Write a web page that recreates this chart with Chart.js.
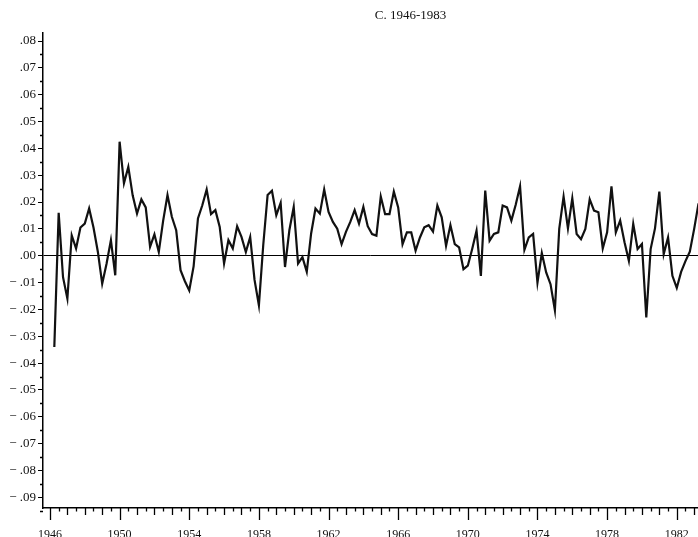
<!DOCTYPE html>
<html>
  <head>
    <title>C. 1946-1983</title>
    <script src="https://cdn.jsdelivr.net/npm/chart.js"></script>
    <style>
      body {
        margin: 0;
        background: #fff;
      }

      #wrap {
        width: 698px;
        height: 537px;
      }
    </style>
  </head>
  <body>
    <div id="wrap"><canvas id="seriesChart" width="698" height="537"></canvas></div>

    <script>
      // quarterly series, first value is 1946 Q2
      const startYear = 1946;
      const startQuarter = 2;
      const values = [
        -0.034, 0.016, -0.008, -0.016, 0.0076, 0.0027, 0.0105, 0.012,
        0.0176, 0.0105, 0.0015, -0.0104, -0.003, 0.0058, -0.0073, 0.0425,
        0.027, 0.0331, 0.0225, 0.0157, 0.021, 0.018, 0.0033, 0.008,
        0.0014, 0.013, 0.0226, 0.0145, 0.0095, -0.0054, -0.0095, -0.0129,
        -0.004, 0.0139, 0.0188, 0.0247, 0.0155, 0.017, 0.0107, -0.0029,
        0.0058, 0.0027, 0.011, 0.007, 0.0014, 0.007, -0.009, -0.0185,
        0.004, 0.0226, 0.0242, 0.0151, 0.0197, -0.0042, 0.0095, 0.0182,
        -0.0029, -0.0005, -0.006, 0.0083, 0.0176, 0.0157, 0.0247, 0.0163,
        0.0126, 0.0101, 0.0043, 0.0089, 0.0126, 0.017, 0.012, 0.0182,
        0.011, 0.0081, 0.0075, 0.0221, 0.0155, 0.0155, 0.0239, 0.018,
        0.0043, 0.0087, 0.0087, 0.0019, 0.0068, 0.0106, 0.0114, 0.009,
        0.0187, 0.0143, 0.0037, 0.0114, 0.0043, 0.0031, -0.005, -0.0037,
        0.0025, 0.0093, -0.0075, 0.0243, 0.0056, 0.0081, 0.0087, 0.0187,
        0.018, 0.0131, 0.019, 0.0259, 0.0022, 0.0068, 0.0081, -0.01,
        0.001, -0.0062, -0.0106, -0.0203, 0.01, 0.022, 0.0102, 0.0214,
        0.0081, 0.0062, 0.01, 0.021, 0.0168, 0.0162, 0.0027, 0.0087,
        0.0259, 0.0087, 0.0131, 0.005, -0.0019, 0.0119, 0.0025, 0.0044,
        -0.023, 0.0025, 0.0102, 0.0239, 0.0006, 0.0068, -0.0075, -0.012,
        -0.006, -0.002, 0.0015, 0.01, 0.0195,
      ];
      const yearLabels = [1946, 1950, 1954, 1958, 1962, 1966, 1970, 1974, 1978, 1982];
      const yTicks = [
        -0.09, -0.08, -0.07, -0.06, -0.05, -0.04, -0.03, -0.02, -0.01,
        0, 0.01, 0.02, 0.03, 0.04, 0.05, 0.06, 0.07, 0.08,
      ];
      const titleText = 'C. 1946-1983';

      const quarters = values.map((_, i) => startYear + (startQuarter - 1 + i) / 4);
      const points = values.map((v, i) => ({ x: quarters[i], y: v }));

      const serif = 'Liberation Serif, DejaVu Serif, serif';

      // small tick marks and the title
      const extras = {
        id: 'extras',
        afterDraw(chart) {
          const { ctx, chartArea: a } = chart;
          const x = chart.scales.x;
          const y = chart.scales.y;
          ctx.save();
          ctx.strokeStyle = '#000';
          ctx.lineWidth = 1.3;
          ctx.beginPath();
          for (let h = 1946 * 2; h <= 1983 * 2; h++) {
            const t = h / 2;
            const px = Math.round(x.getPixelForValue(t)) + 0.5;
            let len = 3.5;
            if (Number.isInteger(t)) len = 7;
            if (yearLabels.includes(t)) len = 12;
            ctx.moveTo(px, a.bottom);
            ctx.lineTo(px, a.bottom + len);
          }
          for (let k = -9; k <= 8; k++) {
            const py = Math.round(y.getPixelForValue(k / 100 - 0.005)) + 0.5;
            ctx.moveTo(a.left - 3, py);
            ctx.lineTo(a.left, py);
          }
          ctx.stroke();

          ctx.fillStyle = '#111';
          ctx.font = '13px ' + serif;
          ctx.textAlign = 'center';
          ctx.textBaseline = 'middle';
          ctx.fillText(titleText, a.left + a.width * 0.561, 16);
          ctx.restore();
        },
      };

      const ctx = document.getElementById('seriesChart').getContext('2d');
      const chart = new Chart(ctx, {
        type: 'line',
        data: {
          datasets: [
            {
              data: points,
              borderColor: '#111',
              borderWidth: 2.2,
              pointRadius: 0,
              tension: 0,
              fill: false,
            },
          ],
        },
        options: {
          responsive: false,
          animation: false,
          layout: {
            padding: { top: 33, left: 0, right: 0, bottom: 0 },
          },
          plugins: {
            legend: { display: false },
            tooltip: { enabled: false },
          },
          scales: {
            x: {
              type: 'linear',
              min: 1945.6,
              max: 1983.22,
              afterBuildTicks: (scale) => {
                scale.ticks = yearLabels.map((v) => ({ value: v }));
              },
              afterFit: (scale) => {
                scale.height = 29;
                scale.paddingLeft = 0;
                scale.paddingRight = 0;
              },
              ticks: {
                autoSkip: false,
                maxRotation: 0,
                padding: 20,
                color: '#111',
                font: { family: serif, size: 12 },
                callback: (v) => String(v),
              },
              grid: {
                display: true,
                drawOnChartArea: false,
                drawTicks: false,
              },
              border: { display: true, color: '#000', width: 1.5 },
            },
            y: {
              min: -0.094,
              max: 0.083,
              afterBuildTicks: (scale) => {
                scale.ticks = yTicks.map((v) => ({ value: v }));
              },
              afterFit: (scale) => {
                scale.width = 43;
                scale.paddingTop = 0;
                scale.paddingBottom = 0;
              },
              ticks: {
                padding: 2,
                color: '#111',
                font: { family: serif, size: 13 },
                callback: (v) => {
                  const n = String(Math.round(Math.abs(v) * 100)).padStart(2, '0');
                  return (v < -1e-9 ? '\u2212 ' : '') + '.' + n;
                },
              },
              grid: {
                drawOnChartArea: true,
                drawTicks: true,
                tickLength: 5,
                tickColor: '#000',
                lineWidth: 1,
                color: (c) => (c.tick && Math.abs(c.tick.value) < 1e-9 ? '#000' : 'rgba(0,0,0,0)'),
              },
              border: { display: true, color: '#000', width: 1.5 },
            },
          },
        },
        plugins: [extras],
      });
    </script>
  </body>
</html>
